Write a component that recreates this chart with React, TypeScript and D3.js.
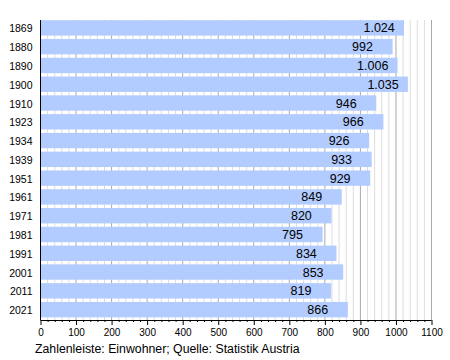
import {useEffect, useRef} from "react";
import * as d3 from "d3";

const SvgWidth = 450;
const SvgHeight = 360;

const years = ["1869", "1880", "1890", "1900", "1910", "1923", "1934", "1939", "1951", "1961", "1971", "1981", "1991", "2001", "2011", "2021"];
const population = [1024, 992, 1006, 1035, 946, 966, 926, 933, 929, 849, 820, 795, 834, 853, 819, 866];
const majorTicks = [0, 100, 200, 300, 400, 500, 600, 700, 800, 900, 1000, 1100];
const caption = "Zahlenleiste: Einwohner; Quelle: Statistik Austria";

const barColor = "#b3ccff";
const fontFamily = "'Liberation Sans', Arial, Helvetica, sans-serif";

// German thousands separator: 1.024
const fmt = (v: number) => d3.format(",")(v).replace(/,/g, ".");

function App() {
    const xAxisRef = useRef(null);

    const xScale = d3.scaleLinear().domain([0, 1100]).range([40, 431]);
    const yScale = d3.scaleBand()
        .domain(years)
        .range([18.5, 319])
        .paddingInner(0.18)
        .paddingOuter(0.09);

    const minorTicks = d3.range(0, 1101, 20).filter(v => v % 100 !== 0);

    useEffect(() => {
        const axisElm = d3.select(xAxisRef.current);
        axisElm.selectAll("*").remove();
        // minor ticks
        axisElm.append("g")
            .call(d3.axisBottom(xScale).tickValues(minorTicks).tickSize(2).tickFormat(() => ""))
            .call(g => g.select(".domain").remove())
            .selectAll("line").attr("stroke", "#000");
        axisElm.append("g")
            .call(d3.axisBottom(xScale).tickValues(majorTicks).tickSize(5).tickPadding(4).tickFormat(d => String(d)))
            .call(g => g.select(".domain").attr("d", `M${xScale(0)},0.5H${xScale(1100)}`).attr("stroke", "#000"))
            .call(g => g.selectAll("text")
                .attr("font-size", 10)
                .attr("font-family", fontFamily)
                .attr("fill", "#000"));
    }, []);

    return (
        <svg width={SvgWidth} height={SvgHeight} style={{position: "absolute", left: 0, top: 0}}>
            <rect width={SvgWidth} height={SvgHeight} fill="#fff"/>
            {/* grid */}
            {minorTicks.map(v => (
                <line key={"m" + v} x1={xScale(v) + 0.5} x2={xScale(v) + 0.5} y1={20} y2={320} stroke="#dddddd"/>
            ))}
            {majorTicks.map(v => (
                <line key={"M" + v} x1={xScale(v) + 0.5} x2={xScale(v) + 0.5} y1={20} y2={320} stroke="#aaaaaa"/>
            ))}
            {/* bars */}
            {years.map((yr, i) => (
                <rect key={yr}
                      x={xScale(0)}
                      y={yScale(yr)}
                      width={xScale(population[i]) - xScale(0)}
                      height={yScale.bandwidth()}
                      fill={barColor}/>
            ))}
            {/* value labels */}
            {years.map((yr, i) => (
                <text key={"v" + yr}
                      x={xScale(population[i]) - 40.5}
                      y={(yScale(yr) as number) + yScale.bandwidth() / 2 + 4.5}
                      fontSize={12.5}
                      fontFamily={fontFamily}>
                    {fmt(population[i])}
                </text>
            ))}
            {/* year labels */}
            {years.map(yr => (
                <text key={"y" + yr}
                      x={32.5}
                      y={(yScale(yr) as number) + yScale.bandwidth() / 2 + 4.5}
                      fontSize={10.5}
                      textAnchor="end"
                      fontFamily={fontFamily}>
                    {yr}
                </text>
            ))}
            <line x1={40.5} x2={40.5} y1={20} y2={320} stroke="#000"/>
            <g ref={xAxisRef} transform="translate(0.5, 320)"></g>
            <text x={35} y={353} fontSize={12.3} fontFamily={fontFamily}>{caption}</text>
        </svg>
    );
}

export default App;
